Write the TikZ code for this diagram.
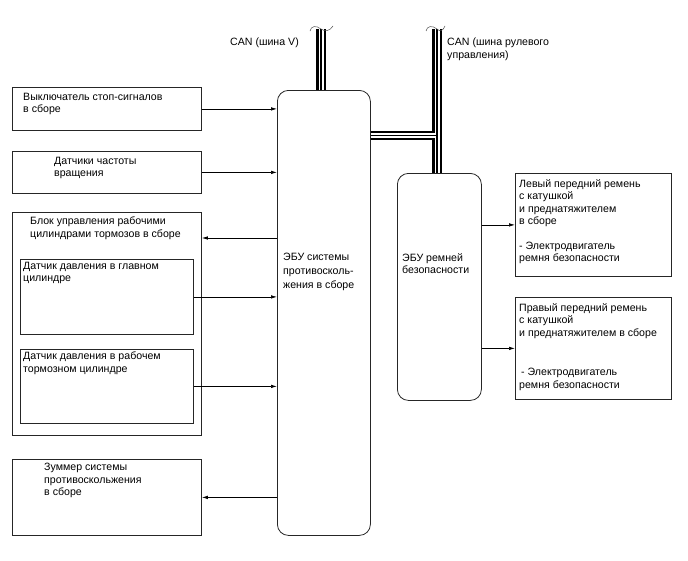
\documentclass[tikz,border=0pt]{standalone}
\usepackage{fontspec}
\setmainfont{Liberation Sans}
\usetikzlibrary{arrows.meta}

\begin{document}
\begin{tikzpicture}[x=1pt,y=-1pt,
  every node/.style={font=\fontsize{10.6}{12.5}\selectfont},
  blk/.style={draw=black!85,line width=0.8pt,inner sep=0pt,anchor=north west},
  ecu/.style={blk,rounded corners=11pt},
  txt/.style={inner sep=0pt,anchor=north west,align=left},
  sig/.style={line width=0.7pt,-{Latex[length=6pt,width=3.5pt]}},
  canbus/.style={line width=2.4pt,double=white,double distance=5pt},
  canmid/.style={line width=1.6pt},
  brk/.style={line width=0.5pt,black!70}]
\useasboundingbox (0,0) rectangle (688,560);
\node[blk,minimum width=189pt,minimum height=43pt] (b1) at (12,87) {};
\node[blk,minimum width=189pt,minimum height=42pt] (b2) at (12,151) {};
\node[blk,minimum width=189pt,minimum height=223pt] (bcu) at (12,212) {};
\node[blk,minimum width=173pt,minimum height=75pt] (p1) at (20,259) {};
\node[blk,minimum width=173pt,minimum height=74pt] (p2) at (20,349) {};
\node[blk,minimum width=189pt,minimum height=76pt] (bz) at (12,459) {};
\node[ecu,minimum width=93pt,minimum height=445pt] (abs) at (277,90) {};
\node[ecu,minimum width=84pt,minimum height=227pt] (srs) at (397,173) {};
\node[blk,minimum width=156pt,minimum height=103pt] (r1) at (515,173) {};
\node[blk,minimum width=156pt,minimum height=102pt] (r2) at (515,297) {};
\node[txt] (t1) at (23,93) {Выключатель стоп-сигналов\\в сборе};
\node[txt] (t2) at (54,157) {Датчики частоты\\вращения};
\node[txt] (tbcu) at (30,217) {Блок управления рабочими\\цилиндрами тормозов в сборе};
\node[txt] (tp1) at (23,262) {Датчик давления в главном\\цилиндре};
\node[txt] (tp2) at (23,352) {Датчик давления в рабочем\\тормозном цилиндре};
\node[txt] (tbz) at (44,463) {Зуммер системы\\противоскольжения\\в сборе};
\node[txt] (tabs) at (283,253) {ЭБУ системы\\[1.5pt]противосколь-\\[1.5pt]жения в сборе};
\node[txt] (tsrs) at (402,253) {ЭБУ ремней\\безопасности};
\node[txt] (tr1) at (519,179) {Левый передний ремень\\с катушкой\\и преднатяжителем\\в сборе\\[12pt]- Электродвигатель\\ремня безопасности};
\node[txt] (tr2) at (519,303) {Правый передний ремень\\с катушкой\\и преднатяжителем в сборе\\[27pt]\hspace{2pt}- Электродвигатель\\ремня безопасности};
\node[txt,anchor=north east] (tcv) at (299,38) {CAN (шина V)};
\node[txt] (tcs) at (447,38) {CAN (шина рулевого\\управления)};
\draw[sig] (b1.east) -- (b1.east -| abs.west);
\draw[sig] (b2.east) -- (b2.east -| abs.west);
\draw[sig] (abs.west |- 0,238) -- (bcu.east |- 0,238);
\draw[sig] (p1.east) -- (p1.east -| abs.west);
\draw[sig] (p2.east) -- (p2.east -| abs.west);
\draw[sig] (abs.west |- bz.east) -- (bz.east);
\draw[sig] (srs.east |- r1.west) -- (r1.west);
\draw[sig] (srs.east |- r2.west) -- (r2.west);
\coordinate (cv) at (321,29);
\coordinate (cs) at (437,29);
\draw[canbus] (cv) -- (cv |- abs.north) (cs) -- (cs |- srs.north) (abs.east |- 0,135.5) -- (cs |- 0,135.5);
\draw[canmid] (cv) -- (cv |- abs.north) (cs) -- (cs |- srs.north) (abs.east |- 0,135.5) -- (cs |- 0,135.5);
\draw[brk] (310,31) .. controls (311,26) and (316,25) .. (321,29) .. controls (325,32) and (330,31) .. (333,26);
\draw[brk] (426,31) .. controls (427,26) and (432,25) .. (437,29) .. controls (440,32) and (443,31) .. (445,26);
\end{tikzpicture}
\end{document}
